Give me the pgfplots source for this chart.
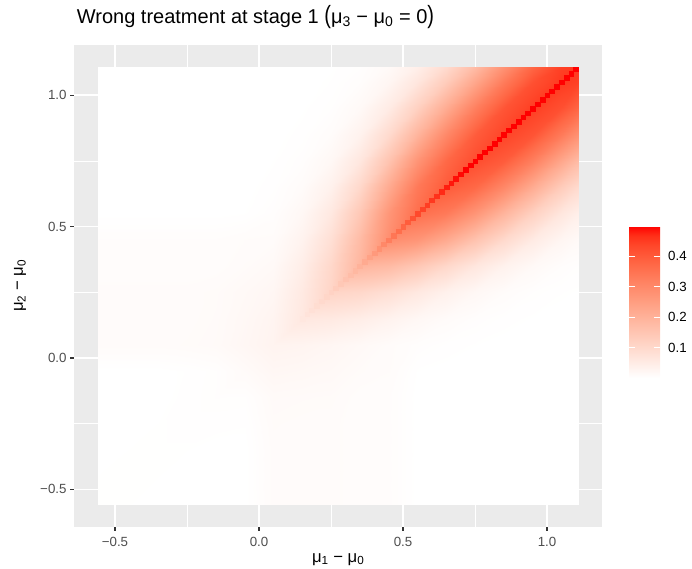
\documentclass[border=0pt]{standalone}
\usepackage{fontspec}
\setmainfont{Liberation Sans}
\usepackage{graphicx}
\usepackage{pgfplots}
\pgfplotsset{compat=1.18}

\definecolor{panelgrey}{HTML}{EBEBEB}
\definecolor{tickgrey}{HTML}{333333}
\definecolor{labelgrey}{HTML}{4D4D4D}

% white-to-red fill scale, interpolated in Lab space
\pgfplotsset{colormap={whitered}{
  rgb255(0cm)=(255,255,255) rgb255(1cm)=(255,231,223) rgb255(2cm)=(255,207,191)
  rgb255(3cm)=(255,183,160) rgb255(4cm)=(255,158,129) rgb255(5cm)=(255,132,100)
  rgb255(6cm)=(255,104,70) rgb255(7cm)=(255,70,41) rgb255(7.5cm)=(255,47,24)
  rgb255(8cm)=(255,0,0)}}

\newcommand\ticksize{\fontsize{13.3}{16}\selectfont}
\newcommand\labsize{\fontsize{16.7}{20}\selectfont}

% probability surface on a grid over (mu1-mu0, mu2-mu0)
\pgfplotstableread{
x y v
-0.558 1.108 0
-0.45 1.108 0
-0.35 1.108 0
-0.25 1.108 0
-0.15 1.108 0
-0.05 1.108 0
0.05 1.108 0
0.15 1.108 0
0.25 1.108 0.0007
0.35 1.108 0.0036
0.45 1.108 0.0148
0.55 1.108 0.0425
0.65 1.108 0.0948
0.75 1.108 0.176
0.85 1.108 0.279
0.95 1.108 0.379
1.05 1.108 0.445
1.108 1.108 0.455
-0.558 1.05 0
-0.45 1.05 0
-0.35 1.05 0
-0.25 1.05 0
-0.15 1.05 0
-0.05 1.05 0
0.05 1.05 0
0.15 1.05 0
0.25 1.05 0.0014
0.35 1.05 0.0066
0.45 1.05 0.0245
0.55 1.05 0.0648
0.65 1.05 0.1336
0.75 1.05 0.229
0.85 1.05 0.334
0.95 1.05 0.420
1.05 1.05 0.455
1.108 1.05 0.445
-0.558 0.95 0
-0.45 0.95 0
-0.35 0.95 0
-0.25 0.95 0
-0.15 0.95 0
-0.05 0.95 0
0.05 0.95 0
0.15 0.95 0.0007
0.25 0.95 0.0038
0.35 0.95 0.0161
0.45 0.95 0.0522
0.55 0.95 0.1202
0.65 0.95 0.2156
0.75 0.95 0.323
0.85 0.95 0.411
0.95 0.95 0.45
1.05 0.95 0.420
1.108 0.95 0.379
-0.558 0.85 0
-0.45 0.85 0
-0.35 0.85 0
-0.25 0.85 0
-0.15 0.85 0
-0.05 0.85 0
0.05 0.85 0
0.15 0.85 0.0021
0.25 0.85 0.0093
0.35 0.85 0.0342
0.45 0.85 0.0969
0.55 0.85 0.194
0.65 0.85 0.304
0.75 0.85 0.397
0.85 0.85 0.44
0.95 0.85 0.411
1.05 0.85 0.334
1.108 0.85 0.279
-0.558 0.75 0
-0.45 0.75 0
-0.35 0.75 0
-0.25 0.75 0
-0.15 0.75 0
-0.05 0.75 0
0.05 0.75 0.001
0.15 0.75 0.0051
0.25 0.75 0.0198
0.35 0.75 0.0635
0.45 0.75 0.1563
0.55 0.75 0.2736
0.65 0.75 0.3736
0.75 0.75 0.425
0.85 0.75 0.397
0.95 0.75 0.323
1.05 0.75 0.229
1.108 0.75 0.176
-0.558 0.65 0
-0.45 0.65 0
-0.35 0.65 0
-0.25 0.65 0
-0.15 0.65 0
-0.05 0.65 0
0.05 0.65 0.0025
0.15 0.65 0.0108
0.25 0.65 0.0367
0.35 0.65 0.1024
0.45 0.65 0.2204
0.55 0.65 0.3362
0.65 0.65 0.40
0.75 0.65 0.3736
0.85 0.65 0.304
0.95 0.65 0.2156
1.05 0.65 0.1336
1.108 0.65 0.0948
-0.558 0.55 0
-0.45 0.55 0
-0.35 0.55 0
-0.25 0.55 0
-0.15 0.55 0
-0.05 0.55 0.001
0.05 0.55 0.0054
0.15 0.55 0.020
0.25 0.55 0.0593
0.35 0.55 0.1444
0.45 0.55 0.2709
0.55 0.55 0.36
0.65 0.55 0.3362
0.75 0.55 0.2736
0.85 0.55 0.194
0.95 0.55 0.1202
1.05 0.55 0.0648
1.108 0.55 0.0425
-0.558 0.45 0.007
-0.45 0.45 0.007
-0.35 0.45 0.007
-0.25 0.45 0.007
-0.15 0.45 0.007
-0.05 0.45 0.0092
0.05 0.45 0.010
0.15 0.45 0.0323
0.25 0.45 0.0836
0.35 0.45 0.1775
0.45 0.45 0.29
0.55 0.45 0.2709
0.65 0.45 0.2204
0.75 0.45 0.1563
0.85 0.45 0.0969
0.95 0.45 0.0522
1.05 0.45 0.0245
1.108 0.45 0.0148
-0.558 0.35 0.007
-0.45 0.35 0.007
-0.35 0.35 0.007
-0.25 0.35 0.007
-0.15 0.35 0.0077
-0.05 0.35 0.011
0.05 0.35 0.0162
0.15 0.35 0.0456
0.25 0.35 0.1027
0.35 0.35 0.19
0.45 0.35 0.1775
0.55 0.35 0.1444
0.65 0.35 0.1024
0.75 0.35 0.0635
0.85 0.35 0.0342
0.95 0.35 0.0161
1.05 0.35 0.0066
1.108 0.35 0.0036
-0.558 0.25 0.01
-0.45 0.25 0.01
-0.35 0.25 0.01
-0.25 0.25 0.01
-0.15 0.25 0.0113
-0.05 0.25 0.0165
0.05 0.25 0.0228
0.15 0.25 0.056
0.25 0.25 0.11
0.35 0.25 0.1027
0.45 0.25 0.0836
0.55 0.25 0.0593
0.65 0.25 0.0367
0.75 0.25 0.0198
0.85 0.25 0.0093
0.95 0.25 0.0038
1.05 0.25 0.0014
1.108 0.25 0.0007
-0.558 0.15 0.01
-0.45 0.15 0.01
-0.35 0.15 0.01
-0.25 0.15 0.01
-0.15 0.15 0.012
-0.05 0.15 0.0191
0.05 0.15 0.028
0.15 0.15 0.06
0.25 0.15 0.056
0.35 0.15 0.0456
0.45 0.15 0.0323
0.55 0.15 0.020
0.65 0.15 0.0108
0.75 0.15 0.0051
0.85 0.15 0.0021
0.95 0.15 0.0007
1.05 0.15 0
1.108 0.15 0
-0.558 0.05 0.01
-0.45 0.05 0.01
-0.35 0.05 0.01
-0.25 0.05 0.011
-0.15 0.05 0.013
-0.05 0.05 0.0212
0.05 0.05 0.03
0.15 0.05 0.028
0.25 0.05 0.0228
0.35 0.05 0.0162
0.45 0.05 0.010
0.55 0.05 0.0054
0.65 0.05 0.0025
0.75 0.05 0.001
0.85 0.05 0
0.95 0.05 0
1.05 0.05 0
1.108 0.05 0
-0.558 -0.05 0
-0.45 -0.05 0
-0.35 -0.05 0
-0.25 -0.05 0.0015
-0.15 -0.05 0.0037
-0.05 -0.05 0.012
0.05 -0.05 0.0212
0.15 -0.05 0.0191
0.25 -0.05 0.0165
0.35 -0.05 0.011
0.45 -0.05 0.0092
0.55 -0.05 0.001
0.65 -0.05 0
0.75 -0.05 0
0.85 -0.05 0
0.95 -0.05 0
1.05 -0.05 0
1.108 -0.05 0
-0.558 -0.15 0
-0.45 -0.15 0
-0.35 -0.15 0
-0.25 -0.15 0.002
-0.15 -0.15 0.004
-0.05 -0.15 0.0037
0.05 -0.15 0.013
0.15 -0.15 0.012
0.25 -0.15 0.0113
0.35 -0.15 0.0077
0.45 -0.15 0.007
0.55 -0.15 0
0.65 -0.15 0
0.75 -0.15 0
0.85 -0.15 0
0.95 -0.15 0
1.05 -0.15 0
1.108 -0.15 0
-0.558 -0.25 0
-0.45 -0.25 0
-0.35 -0.25 0.001
-0.25 -0.25 0.002
-0.15 -0.25 0.002
-0.05 -0.25 0.0015
0.05 -0.25 0.011
0.15 -0.25 0.01
0.25 -0.25 0.01
0.35 -0.25 0.007
0.45 -0.25 0.007
0.55 -0.25 0
0.65 -0.25 0
0.75 -0.25 0
0.85 -0.25 0
0.95 -0.25 0
1.05 -0.25 0
1.108 -0.25 0
-0.558 -0.35 0
-0.45 -0.35 0.001
-0.35 -0.35 0.001
-0.25 -0.35 0.001
-0.15 -0.35 0
-0.05 -0.35 0
0.05 -0.35 0.01
0.15 -0.35 0.01
0.25 -0.35 0.01
0.35 -0.35 0.007
0.45 -0.35 0.007
0.55 -0.35 0
0.65 -0.35 0
0.75 -0.35 0
0.85 -0.35 0
0.95 -0.35 0
1.05 -0.35 0
1.108 -0.35 0
-0.558 -0.45 0.001
-0.45 -0.45 0.001
-0.35 -0.45 0.001
-0.25 -0.45 0
-0.15 -0.45 0
-0.05 -0.45 0
0.05 -0.45 0.01
0.15 -0.45 0.01
0.25 -0.45 0.01
0.35 -0.45 0.007
0.45 -0.45 0.007
0.55 -0.45 0
0.65 -0.45 0
0.75 -0.45 0
0.85 -0.45 0
0.95 -0.45 0
1.05 -0.45 0
1.108 -0.45 0
-0.558 -0.558 0.001
-0.45 -0.558 0.001
-0.35 -0.558 0
-0.25 -0.558 0
-0.15 -0.558 0
-0.05 -0.558 0
0.05 -0.558 0.01
0.15 -0.558 0.01
0.25 -0.558 0.01
0.35 -0.558 0.007
0.45 -0.558 0.007
0.55 -0.558 0
0.65 -0.558 0
0.75 -0.558 0
0.85 -0.558 0
0.95 -0.558 0
1.05 -0.558 0
1.108 -0.558 0
}\surface

% values on the line mu1 = mu2 (ties)
\pgfplotstableread{
x y v
0.15 0.15 0.063
0.1667 0.1667 0.072
0.1833 0.1833 0.080
0.2 0.2 0.089
0.2167 0.2167 0.098
0.2333 0.2333 0.107
0.25 0.25 0.116
0.2667 0.2667 0.129
0.2833 0.2833 0.144
0.3 0.3 0.158
0.3167 0.3167 0.171
0.3333 0.3333 0.186
0.35 0.35 0.20
0.3667 0.3667 0.220
0.3833 0.3833 0.240
0.4 0.4 0.261
0.4167 0.4167 0.282
0.4333 0.4333 0.304
0.45 0.45 0.326
0.4667 0.4667 0.343
0.4833 0.4833 0.360
0.5 0.5 0.378
0.5167 0.5167 0.396
0.5333 0.5333 0.414
0.55 0.55 0.432
0.5667 0.5667 0.44
0.5833 0.5833 0.448
0.6 0.6 0.456
0.6167 0.6167 0.464
0.6333 0.6333 0.472
0.65 0.65 0.48
0.6667 0.6667 0.485
0.6833 0.6833 0.49
0.7 0.7 0.495
0.7167 0.7167 0.5
0.7333 0.7333 0.5
0.75 0.75 0.5
0.7667 0.7667 0.5
0.7833 0.7833 0.5
0.8 0.8 0.5
0.8167 0.8167 0.5
0.8333 0.8333 0.5
0.85 0.85 0.5
0.8667 0.8667 0.5
0.8833 0.8833 0.5
0.9 0.9 0.5
0.9167 0.9167 0.5
0.9333 0.9333 0.5
0.95 0.95 0.5
0.9667 0.9667 0.5
0.9833 0.9833 0.5
1.0 1.0 0.5
1.0167 1.0167 0.5
1.0333 1.0333 0.5
1.05 1.05 0.5
1.0667 1.0667 0.5
1.0833 1.0833 0.5
1.1 1.1 0.5
}\tieline

\begin{document}
\begin{tikzpicture}
\begin{axis}[
  scale only axis, width=528pt, height=481.7pt,
  xmin=-0.6417, xmax=1.1917, ymin=-0.6417, ymax=1.1917,
  axis background/.style={fill=panelgrey},
  axis line style={draw=none},
  grid=both,
  major grid style={white, line width=1.7pt},
  minor grid style={white, line width=0.85pt},
  xtick={-0.5,0,0.5,1}, ytick={-0.5,0,0.5,1},
  xticklabels={−0.5,0.0,0.5,1.0}, yticklabels={−0.5,0.0,0.5,1.0},
  minor xtick={-0.25,0.25,0.75}, minor ytick={-0.25,0.25,0.75},
  tick align=outside, xtick pos=left, ytick pos=left,
  major tick length=4pt, minor tick length=0pt,
  tick style={tickgrey, line width=1.5pt},
  ticklabel style={font=\ticksize, text=labelgrey, inner sep=0pt},
  xticklabel style={anchor=north, yshift=-6.4pt},
  yticklabel style={anchor=east, xshift=-3.5pt},
  point meta min=0, point meta max=0.5,
  colormap name=whitered,
  colorbar,
  colorbar/width=31pt,
  colorbar style={
    scale only axis,
    at={(parent axis.south east)}, anchor=south west, xshift=18.3pt, yshift=148.6pt,
    width=31pt, height=152pt,
    axis line style={draw=none},
    ytick={0.1,0.2,0.3,0.4}, yticklabels={0.1,0.2,0.3,0.4},
    ytick pos=both, yticklabel pos=right,
    tick align=inside, major tick length=6.2pt,
    ytick style={white, line width=1pt},
    yticklabel style={font=\ticksize, text=black, anchor=west, inner sep=0pt, xshift=8pt},
  },
  title={Wrong treatment at stage 1 \scalebox{1}[1.25]{(}μ\textsubscript{3} − μ\textsubscript{0} = 0\scalebox{1}[1.25]{)}},
  title style={at={(axis description cs:0.0047,1.0324)}, anchor=base west, inner sep=0pt,
    font=\fontsize{20}{24}\selectfont},
  xlabel={μ\textsubscript{1} − μ\textsubscript{0}},
  xlabel style={at={(axis description cs:0.5,-0.0735)}, anchor=base, inner sep=0pt, font=\labsize},
  ylabel={μ\textsubscript{2} − μ\textsubscript{0}},
  ylabel style={at={(axis description cs:-0.097,0.5)}, anchor=base, rotate=0, inner sep=0pt, font=\labsize},
]
\addplot[surf, shader=interp, mesh/rows=18, mesh/cols=18, point meta=explicit]
  table[x=x, y=y, meta=v] {\surface};
\addplot[scatter, only marks, mark=square*, mark size=2.4pt, point meta=explicit,
  scatter/use mapped color={draw=mapped color, fill=mapped color},
  mark options={line width=0.1pt, yscale=0.912}]
  table[x=x, y=y, meta=v] {\tieline};
\end{axis}
\pgfresetboundingbox
\path[use as bounding box] (-74.2pt,-41.4pt) rectangle (617.8pt,526.6pt);
\end{tikzpicture}
\end{document}
